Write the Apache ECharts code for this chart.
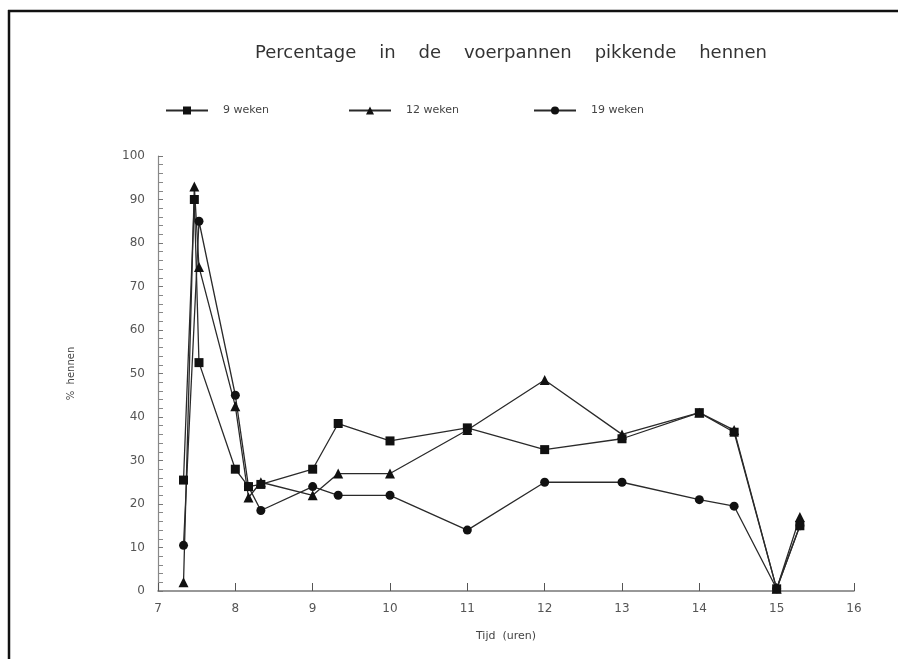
<!DOCTYPE html>
<html>
<head>
<meta charset="utf-8">
<script src="https://cdn.jsdelivr.net/npm/echarts@6/dist/echarts.min.js"></script>
<style>
html,body{margin:0;padding:0;background:#fff;}
#chart{width:898px;height:659px;}
</style>
</head>
<body>
<div id="chart"></div>
<script>
// Time (hours) of observation
var times = [7.33, 7.47, 7.53, 8.0, 8.17, 8.33, 9.0, 9.33, 10, 11, 12, 13, 14, 14.45, 15, 15.3];
// % hens pecking in feeding pans
var weken9  = [25.5, 90, 52.5, 28, 24, 24.5, 28, 38.5, 34.5, 37.5, 32.5, 35, 41, 36.5, 0.5, 15];
var weken12 = [2, 93, 74.5, 42.5, 21.5, 25, 22, 27, 27, 37, 48.5, 36, 41, 37, 0.5, 17];
var weken19 = [10.5, null, 85, 45, 24, 18.5, 24, 22, 22, 14, 25, 25, 21, 19.5, 0.5, 15];
var seriesNames = ['9 weken', '12 weken', '19 weken'];
var xTicks = [7, 8, 9, 10, 11, 12, 13, 14, 15, 16];
var yTicks = [0, 10, 20, 30, 40, 50, 60, 70, 80, 90, 100];

function pairs(vals) {
  var out = [];
  for (var i = 0; i < times.length; i++) {
    if (vals[i] !== null) out.push([times[i], vals[i]]);
  }
  return out;
}

var chart = echarts.init(document.getElementById('chart'));
var fontFam = 'DejaVu Sans, Liberation Sans, sans-serif';
var lineCol = '#2a2a2a';
function mkSeries(name, vals, sym) {
  return {
    name: name, type: 'line', data: pairs(vals),
    symbol: sym, symbolSize: sym === 'triangle' ? 10 : 9,
    showAllSymbol: true,
    itemStyle: {color: '#111'},
    lineStyle: {color: lineCol, width: 1.3},
    connectNulls: true
  };
}
function mkLegend(name, left) {
  return {
    data: [name], left: left, top: 100,
    itemWidth: 42, itemHeight: 10,
    textStyle: {color: '#444', fontSize: 11, fontFamily: fontFam, padding: [0, 0, 0, 10]}
  };
}
chart.setOption({
  animation: false,
  backgroundColor: '#fff',
  title: {
    text: 'Percentage    in    de    voerpannen    pikkende    hennen',
    left: 506, top: 39, textAlign: 'center',
    textStyle: {fontSize: 18, fontWeight: 'normal', color: '#333', fontFamily: fontFam}
  },
  legend: [mkLegend(seriesNames[0], 160), mkLegend(seriesNames[1], 343), mkLegend(seriesNames[2], 528)],
  grid: {left: 158, right: 44, top: 156, bottom: 68},
  xAxis: {
    type: 'value', min: xTicks[0], max: xTicks[xTicks.length - 1], interval: 1,
    name: 'Tijd  (uren)', nameLocation: 'middle', nameGap: 40,
    nameTextStyle: {fontSize: 11, color: '#444', fontFamily: fontFam},
    axisLine: {lineStyle: {color: '#777', width: 1.5}},
    axisTick: {show: true, inside: true, length: 8, lineStyle: {color: '#555'}},
    axisLabel: {fontSize: 12, color: '#555', margin: 12, fontFamily: fontFam},
    splitLine: {show: false}
  },
  yAxis: {
    type: 'value', min: yTicks[0], max: yTicks[yTicks.length - 1], interval: 10,
    name: '%  hennen', nameLocation: 'middle', nameGap: 82, nameRotate: 90,
    nameTextStyle: {fontSize: 10, color: '#444', fontFamily: fontFam},
    axisLine: {show: true, lineStyle: {color: '#888', width: 1.2}},
    axisTick: {show: true, inside: true, length: 5, lineStyle: {color: '#777'}},
    minorTick: {show: true, splitNumber: 5, length: 5, lineStyle: {color: '#888'}},
    axisLabel: {fontSize: 12, color: '#555', margin: 13, fontFamily: fontFam},
    splitLine: {show: false}
  },
  graphic: [
    {type: 'line', shape: {x1: 8, y1: 11, x2: 898, y2: 11}, style: {stroke: '#111', lineWidth: 2.5}},
    {type: 'line', shape: {x1: 9, y1: 10, x2: 9, y2: 659}, style: {stroke: '#111', lineWidth: 2.5}}
  ],
  series: [
    mkSeries(seriesNames[0], weken9, 'rect'),
    mkSeries(seriesNames[1], weken12, 'triangle'),
    mkSeries(seriesNames[2], weken19, 'circle')
  ]
});
</script>
</body>
</html>
